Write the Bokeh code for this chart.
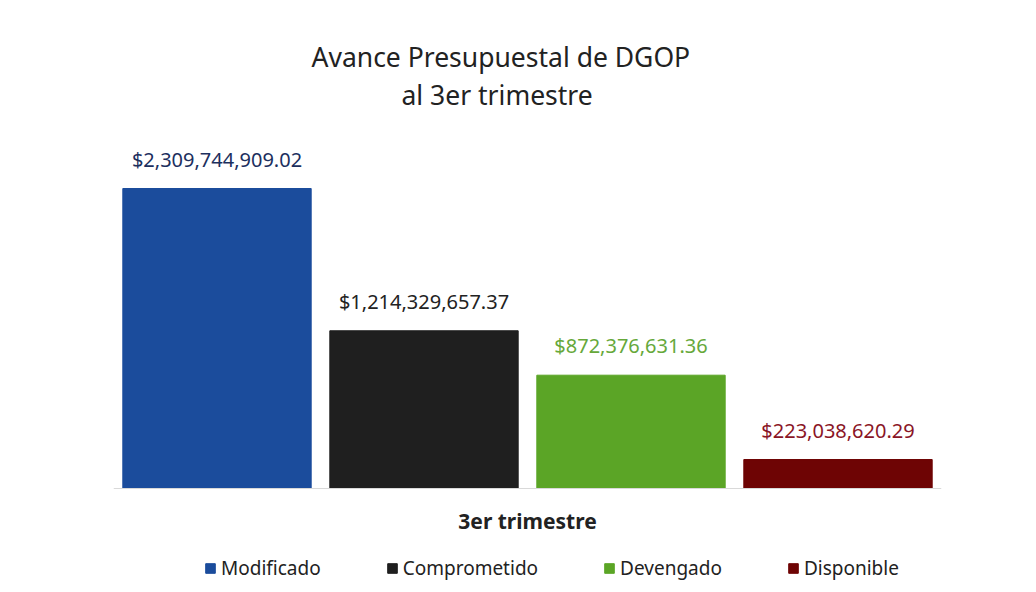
from bokeh.plotting import figure
from bokeh.models import ColumnDataSource, Title, Legend, LegendItem, Range1d, Span
from bokeh.core.properties import value
from bokeh.embed import file_html
from bokeh.resources import INLINE

categories = ["Modificado", "Comprometido", "Devengado", "Disponible"]
values = [2309744909.02, 1214329657.37, 872376631.36, 223038620.29]
labels = ["$2,309,744,909.02", "$1,214,329,657.37", "$872,376,631.36", "$223,038,620.29"]
bar_colors = ["#1b4c9c", "#1f1f1f", "#5ba526", "#6e0404"]
label_colors = ["#1c2f5e", "#222222", "#66a83a", "#8a1526"]
group_label = "3er trimestre"
title_lines = ["Avance Presupuestal de DGOP", "al 3er trimestre"]

FONT = "Noto Sans"

# layout (pixels inside the frame)
FRAME_H = 472
BASE_FROM_BOTTOM = 96
TALLEST_PX = 300
upp = max(values) / TALLEST_PX  # data units per pixel
y_start = -BASE_FROM_BOTTOM * upp
y_end = (FRAME_H - BASE_FROM_BOTTOM) * upp

src = ColumnDataSource(dict(
    x=list(range(len(categories))),
    top=values,
    cat=categories,
    color=bar_colors,
    lab=labels,
    lcolor=label_colors,
))

p = figure(width=1020, height=584, output_backend="svg", toolbar_location=None,
           x_range=Range1d(-0.5, len(categories) - 0.5),
           y_range=Range1d(y_start, y_end),
           x_axis_location=None, y_axis_location=None,
           min_border_left=113, min_border_right=79, min_border_top=0, min_border_bottom=0)
p.outline_line_color = None
p.xgrid.visible = False
p.ygrid.visible = False

p.add_layout(Title(text=title_lines[1], align="left", offset=288, standoff=0, text_font=FONT,
                   text_font_size="26.5px", text_font_style="normal", text_color="#222222"), "above")
p.add_layout(Title(text=title_lines[0], align="left", offset=198, standoff=0, text_font=FONT,
                   text_font_size="26.5px", text_font_style="normal", text_color="#222222"), "above")
p.add_layout(Title(text=" ", standoff=0, text_font=FONT, text_font_size="25.5px"), "above")

p.add_layout(Span(location=0, dimension="width", line_color="#d9d9d9", line_width=1))

r = p.vbar(x="x", top="top", width=0.91, color="color", source=src)
p.text(x="x", y="top", text="lab", text_color="lcolor", source=src,
       text_align="center", text_baseline="bottom", y_offset=-16,
       text_font=value(FONT), text_font_size="20px")

p.text(x=[(len(categories) - 1) / 2], y=[0], text=[group_label], text_align="center",
       text_baseline="middle", y_offset=32, text_font=value(FONT), text_font_size="21px",
       text_font_style="bold", text_color="#222222")

items = [LegendItem(label=c, renderers=[r], index=i) for i, c in enumerate(categories)]
legend = Legend(items=items, orientation="horizontal", location=(91, 3),
                label_text_font=FONT, label_text_font_size="19px", label_text_color="#222222",
                glyph_width=12, glyph_height=12, spacing=65, label_standoff=5,
                border_line_color=None, background_fill_alpha=0, padding=0, margin=0)
p.add_layout(legend, "center")

open("out.html", "w").write(file_html(p, INLINE))
